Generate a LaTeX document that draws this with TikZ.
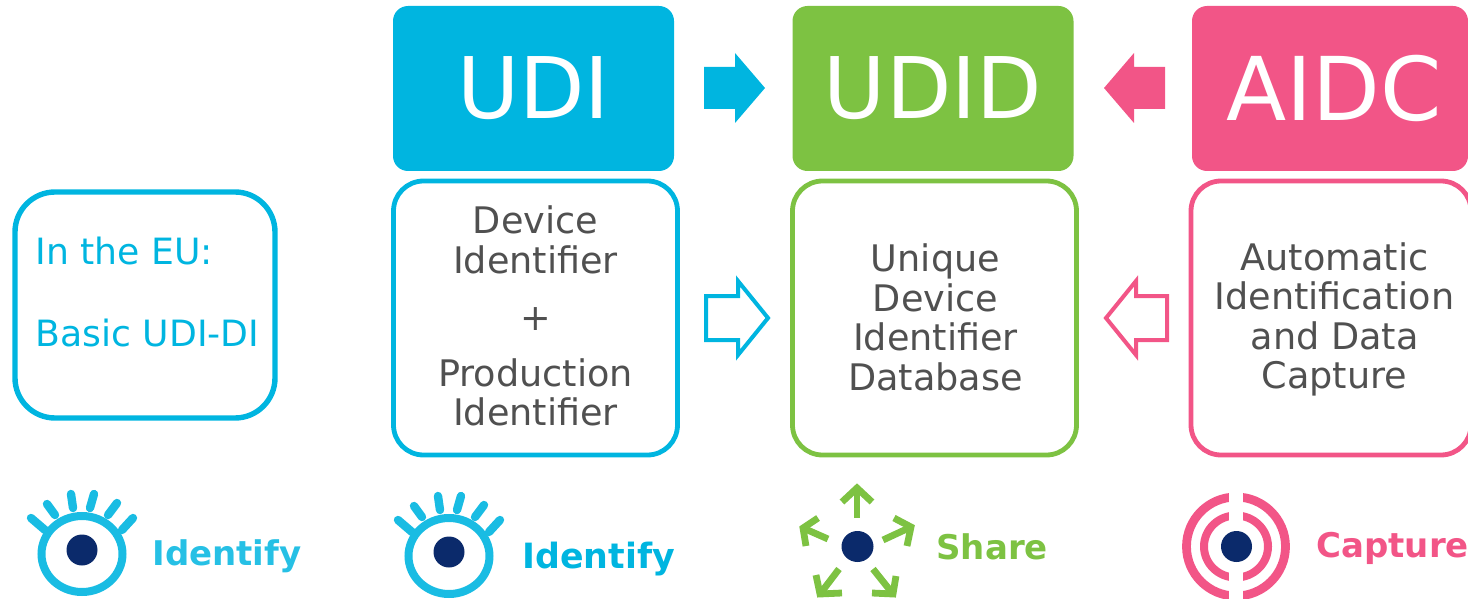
\documentclass[tikz,border=0pt]{standalone}
\usepackage{fontspec}
\setmainfont{DejaVu Sans}
\usepackage{tikz}
\definecolor{udiblue}{HTML}{00B5E0}
\definecolor{udidgreen}{HTML}{7DC242}
\definecolor{aidcpink}{HTML}{F25587}
\definecolor{pupilnavy}{HTML}{0B2A6B}
\definecolor{bodygrey}{HTML}{505050}
\tikzset{
	head/.style={rounded corners=7.5pt, minimum width=140.5pt, minimum height=82.5pt, inner sep=0pt, text=white, font=\fontsize{42.5}{42.5}\selectfont},
	body/.style={draw, line width=2.4pt, rounded corners=15pt, minimum width=142pt, minimum height=137pt, inner sep=0pt},
	copy/.style={inner sep=0pt, align=center, text=bodygrey, font=\fontsize{18.3}{19.8}\selectfont},
	word/.style={anchor=west, inner sep=0pt, font=\fontsize{17}{17}\selectfont\bfseries},
	lash/.style={udiblue!90!white, line width=4.2pt, line cap=round},
	ray/.style={udidgreen, line width=3.4pt},
	pupil/.style={fill=pupilnavy},
}
\newcommand{\eyeicon}[2]{
	\begin{scope}[shift={(#1,#2)}]
		\draw [udiblue!90!white, line width=4pt] (82,554) ellipse[x radius=40.5, y radius=38];
		\foreach \ax/\ay/\bx/\by in {31/518/45/530, 47/504/55/515, 71/494/73/508, 94/494/90/508, 117/503/108/515, 133/518/122/530}
			\draw [lash] (\ax,\ay) -- (\bx,\by);
		\fill [pupil] (82,550) ellipse[x radius=15.5, y radius=15.5];
	\end{scope}
}

\begin{document}
\begin{tikzpicture}[x=0.5pt,y=-0.5pt]
	\useasboundingbox (0,0) rectangle (1468,599);
	\clip (0,0) rectangle (1468,599);

	% top row
	\node [head, fill=udiblue] (udi) at (533.5,88.5) {\raisebox{1pt}{UDI}};
	\node [head, fill=udidgreen] (udid) at (933,88.5) {\raisebox{1pt}{UDID}};
	\node [head, fill=aidcpink, minimum width=138pt] (aidc) at (1330,88.5) {\hspace{4pt}\raisebox{1pt}{\fontsize{44}{44}\selectfont AIDC}};

	% middle row
	\node [body, draw=udiblue] (udibox) at (535.5,318) {};
	\node [copy] (udicopy) at (535.5,316) {Device\\Identifier\\[8.8pt]+\\[8pt]Production\\Identifier};
	\node [body, draw=udidgreen] (udidbox) at (934.5,318) {};
	\node [copy] (udidcopy) at (935.5,317.5) {Unique\\Device\\Identifier\\Database};
	\node [body, draw=aidcpink, minimum width=140pt] (aidcbox) at (1331,318) {};
	\node [copy] (aidccopy) at (1334.5,319.5) {Automatic\\Identification\\and Data\\Capture};

	\node [body, draw=udiblue, line width=2.7pt, minimum width=130pt, minimum height=113pt, rounded corners=20pt] (eubox) at (145,305) {};
	\node [anchor=west, inner sep=0pt, align=left, text=udiblue, font=\fontsize{18.1}{20.5}\selectfont] (eutext) at (35,292.5) {In the EU:\\ \\Basic UDI-DI};

	% block arrows
	\fill [udiblue] (704,67) -- (735,67) -- (735,53) -- (765,88) -- (735,123) -- (735,109) -- (704,109) -- cycle;
	\fill [aidcpink] (1165,67) -- (1134,67) -- (1134,53) -- (1104,88) -- (1134,123) -- (1134,109) -- (1165,109) -- cycle;
	\draw [udiblue, line width=2pt, miter limit=4] (706,296) -- (738,296) -- (738,281) -- (768,318) -- (738,355) -- (738,340) -- (706,340) -- cycle;
	\draw [aidcpink, line width=2pt, miter limit=4] (1167,296) -- (1136,296) -- (1136,281) -- (1106,318) -- (1136,355) -- (1136,340) -- (1167,340) -- cycle;

	% icons
	\eyeicon{0}{0}
	\eyeicon{367}{2}

	\foreach \ax/\ay/\bx/\by/\cx/\cy/\dx/\dy in {
		857/518/857/488/842/502/872/502,
		883/540/911/527/894/518/907/546,
		828/539/803/528/818/518/806/546,
		839/569/820/594/816/575/842/593,
		873/569/893/594/896/576/872/593}
	{
		\draw [ray] (\ax,\ay) -- (\bx,\by);
		\draw [ray] (\cx,\cy) -- (\bx,\by) -- (\dx,\dy);
	}
	\fill [pupil] (857.5,546.5) ellipse[x radius=16, y radius=15.5];

	\draw [aidcpink, line width=4.4pt] (1236,546.5) ellipse[x radius=49.5, y radius=49.5];
	\draw [aidcpink, line width=4pt] (1236,546.5) ellipse[x radius=32, y radius=31];
	\fill [white] (1229,480) rectangle (1243,599);
	\fill [pupil] (1236.5,546.5) ellipse[x radius=15.5, y radius=15.5];

	% icon labels
	\node [word, text=udiblue!85!white] (identifyone) at (152,556) {Identify};
	\node [word, text=udiblue, font=\fontsize{17.4}{17}\selectfont\bfseries] (identifytwo) at (522,559) {Identify};
	\node [word, text=udidgreen] (share) at (936,547) {Share};
	\node [word, text=aidcpink] (capture) at (1316,548) {Capture};
\end{tikzpicture}
\end{document}
